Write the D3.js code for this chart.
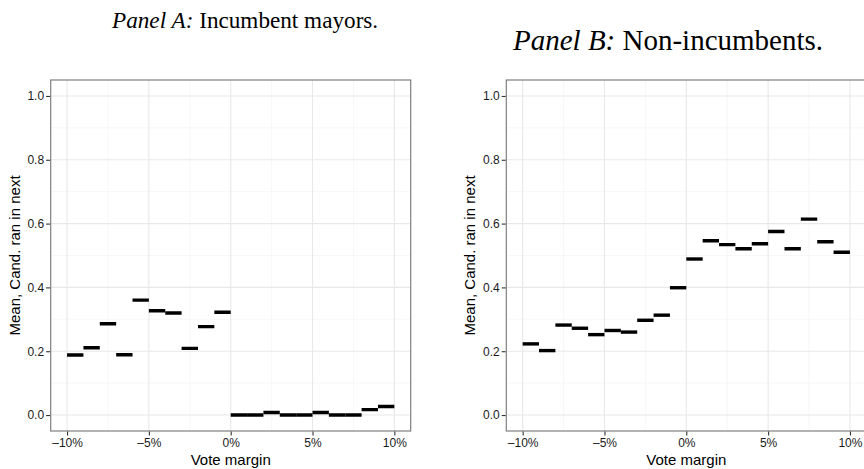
<!DOCTYPE html>
<html>
<head>
<meta charset="utf-8">
<title>Vote margin panels</title>
<script src="https://d3js.org/d3.v7.min.js"></script>
<style>
body { margin: 0; background: #fff; }
.title { font-family: "Liberation Serif", "Times New Roman", serif; fill: #000; }
.tick text { font-family: "Liberation Sans", Arial, sans-serif; font-size: 12px; fill: #1a1a1a; }
.axis-title { font-family: "Liberation Sans", Arial, sans-serif; font-size: 15px; fill: #000; }
</style>
</head>
<body>
<div id="chart"></div>
<script>

// bin start of each 1% vote-margin bin
var binStart = [-10, -9, -8, -7, -6, -5, -4, -3, -2, -1, 0, 1, 2, 3, 4, 5, 6, 7, 8, 9];

// Panel A: incumbent mayors
var meanA = [0.188, 0.211, 0.286, 0.189, 0.360, 0.327, 0.320, 0.209, 0.277, 0.322,
             0.000, 0.000, 0.008, 0.000, 0.000, 0.008, 0.000, 0.000, 0.017, 0.027];

// Panel B: non-incumbents
var meanB = [0.223, 0.202, 0.282, 0.272, 0.252, 0.265, 0.260, 0.297, 0.313, 0.399,
             0.489, 0.546, 0.534, 0.521, 0.537, 0.575, 0.521, 0.614, 0.543, 0.510];

var xTicks = [-10, -5, 0, 5, 10];
var xMinor = [-7.5, -2.5, 2.5, 7.5];
var yTicks = [0, 0.2, 0.4, 0.6, 0.8, 1.0];
var yMinor = [0.1, 0.3, 0.5, 0.7, 0.9];

var W = 864, H = 469;

var svg = d3.select("#chart").append("svg")
    .attr("width", W)
    .attr("height", H);

function panel(id, left, values, titleItalic, titleRest, titleX, titleY, titleSize, yTitleX) {
  var top = 80, bottom = 431, plotW = 360;

  var x = d3.scaleLinear().domain([-11, 11]).range([left, left + plotW]);
  var y = d3.scaleLinear().domain([-0.05, 1.05]).range([bottom, top]);

  var g = svg.append("g");

  g.append("clipPath").attr("id", "clip" + id)
    .append("rect")
    .attr("x", left).attr("y", top)
    .attr("width", plotW).attr("height", bottom - top);

  var grid = g.append("g").attr("clip-path", "url(#clip" + id + ")");

  // minor grid
  grid.selectAll(".ymin").data(yMinor).enter().append("line")
    .attr("x1", left).attr("x2", left + plotW)
    .attr("y1", function(d) { return y(d); }).attr("y2", function(d) { return y(d); })
    .attr("stroke", "#f5f5f5").attr("stroke-width", 0.8);
  grid.selectAll(".xmin").data(xMinor).enter().append("line")
    .attr("y1", top).attr("y2", bottom)
    .attr("x1", function(d) { return x(d); }).attr("x2", function(d) { return x(d); })
    .attr("stroke", "#f5f5f5").attr("stroke-width", 0.8);

  // major grid
  grid.selectAll(".ymaj").data(yTicks).enter().append("line")
    .attr("x1", left).attr("x2", left + plotW)
    .attr("y1", function(d) { return y(d); }).attr("y2", function(d) { return y(d); })
    .attr("stroke", "#e8e8e8").attr("stroke-width", 1.1);
  grid.selectAll(".xmaj").data(xTicks).enter().append("line")
    .attr("y1", top).attr("y2", bottom)
    .attr("x1", function(d) { return x(d); }).attr("x2", function(d) { return x(d); })
    .attr("stroke", "#e8e8e8").attr("stroke-width", 1.1);

  // bin means as horizontal segments
  grid.selectAll(".seg").data(binStart).enter().append("line")
    .attr("x1", function(d) { return x(d); })
    .attr("x2", function(d) { return x(d + 1); })
    .attr("y1", function(d, i) { return y(values[i]); })
    .attr("y2", function(d, i) { return y(values[i]); })
    .attr("stroke", "#000").attr("stroke-width", 3.4);

  // panel border
  g.append("rect")
    .attr("x", left).attr("y", top)
    .attr("width", plotW).attr("height", bottom - top)
    .attr("fill", "none").attr("stroke", "#7f7f7f").attr("stroke-width", 1.2);

  // axes
  var xAxis = g.append("g")
    .attr("transform", "translate(0," + (bottom + 0.6) + ")")
    .call(d3.axisBottom(x).tickValues(xTicks).tickSize(4).tickPadding(3)
      .tickFormat(function(d) { return (d < 0 ? "\u2013" + (-d) : d) + "%"; }));
  xAxis.select(".domain").remove();
  xAxis.selectAll(".tick line").attr("stroke", "#333").attr("stroke-width", 1.1);

  var yAxis = g.append("g")
    .attr("transform", "translate(" + (left - 0.6) + ",0)")
    .call(d3.axisLeft(y).tickValues(yTicks).tickSize(4).tickPadding(2)
      .tickFormat(d3.format(".1f")));
  yAxis.select(".domain").remove();
  yAxis.selectAll(".tick line").attr("stroke", "#333").attr("stroke-width", 1.1);

  g.append("text")
    .attr("class", "axis-title")
    .attr("x", left + plotW / 2)
    .attr("y", 465)
    .attr("text-anchor", "middle")
    .text("Vote margin");

  g.append("text")
    .attr("class", "axis-title")
    .attr("transform", "translate(" + yTitleX + "," + ((top + bottom) / 2) + ") rotate(-90)")
    .attr("text-anchor", "middle")
    .text("Mean, Cand. ran in next");

  var t = svg.append("text")
    .attr("class", "title")
    .attr("x", titleX)
    .attr("y", titleY)
    .style("font-size", titleSize + "px");
  t.append("tspan").style("font-style", "italic").text(titleItalic);
  t.append("tspan").text(titleRest);
}

panel("A", 50.7, meanA, "Panel A:", " Incumbent mayors.", 112, 28, 23.2, 19.5);
panel("B", 506.3, meanB, "Panel B:", " Non-incumbents.", 513, 50, 29, 475);

</script>
</body>
</html>
